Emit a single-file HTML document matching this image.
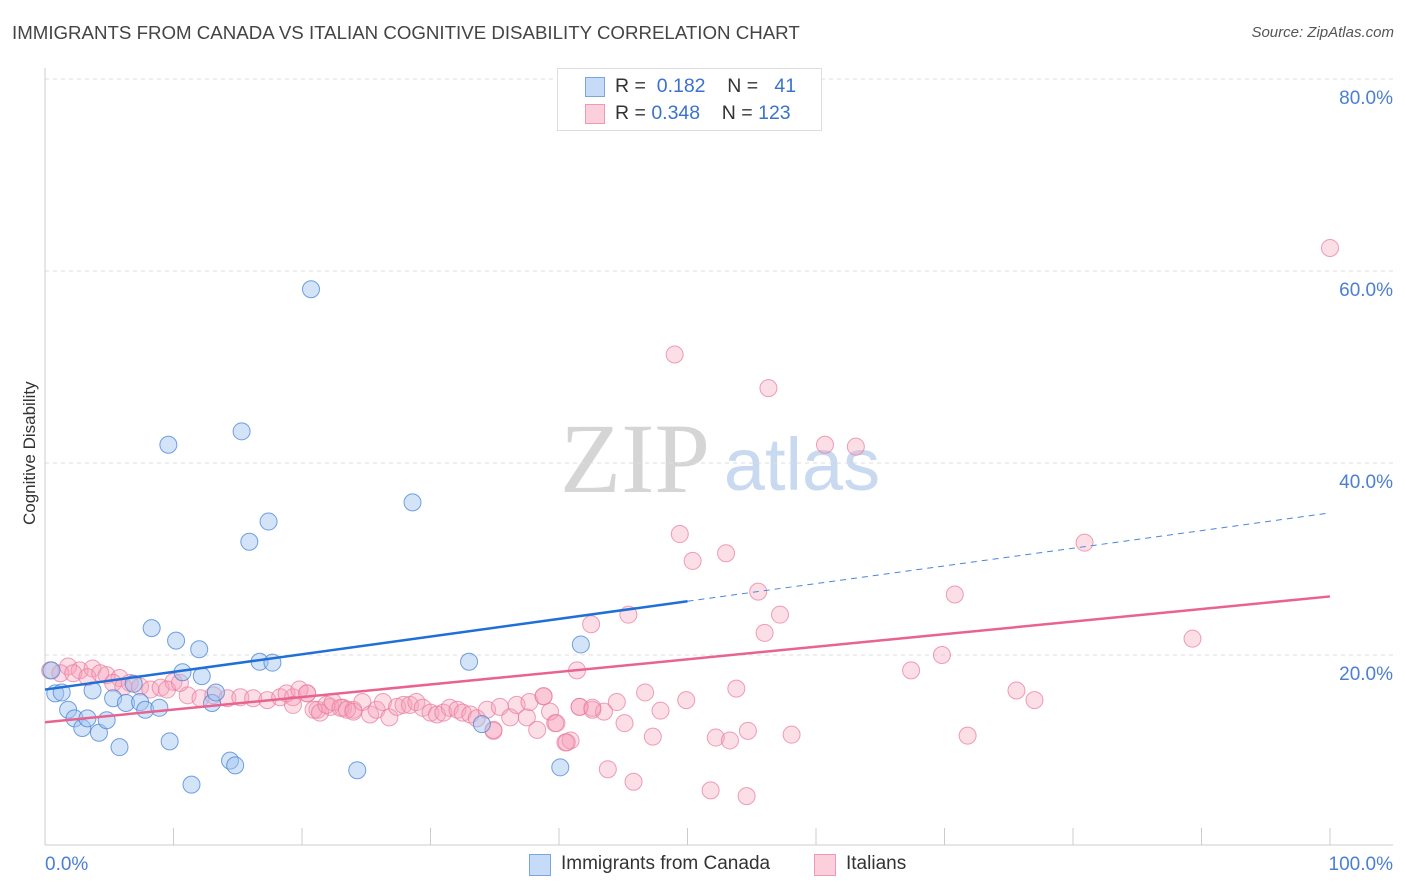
<!DOCTYPE html>
<html><head><meta charset="utf-8">
<style>
body{margin:0;background:#fff;font-family:"Liberation Sans",sans-serif;}
#wrap{position:relative;width:1406px;height:892px;overflow:hidden;}
.t{position:absolute;white-space:nowrap;}
</style></head>
<body>
<div id="wrap">
<div class="t" style="left:12px;top:22px;font-size:18.7px;color:#444;">IMMIGRANTS FROM CANADA VS ITALIAN COGNITIVE DISABILITY CORRELATION CHART</div>
<div class="t" style="right:12px;top:24px;font-size:15px;color:#555;font-style:italic;">Source: ZipAtlas.com</div>
<svg id="plot" width="1406" height="892" style="position:absolute;left:0;top:0">
<text x="635" y="492" font-family="Liberation Serif,serif" font-size="100" fill="#d5d5d5" text-anchor="middle">ZIP</text>
<text x="802" y="490" font-family="Liberation Sans,sans-serif" font-size="74" fill="#c9d9f0" text-anchor="middle">atlas</text>
</svg>
<div class="t" style="left:-40px;top:445px;font-size:17px;color:#333;transform:rotate(-90deg);width:140px;text-align:center;">Cognitive Disability</div>
<div style="position:absolute;left:557px;top:68px;width:263px;height:61px;border:1px solid #ddd;background:#fff;">
 <div style="position:absolute;left:27px;top:8px;width:18px;height:18px;background:#c5dbf7;border:1px solid #7aa6e0;"></div>
 <div class="t" style="left:57px;top:6px;font-size:19.5px;color:#333;">R = <span style="color:#3a73cf">&nbsp;0.182</span>&nbsp;&nbsp;&nbsp; N = <span style="color:#3a73cf">&nbsp;&nbsp;41</span></div>
 <div style="position:absolute;left:27px;top:35px;width:18px;height:18px;background:#fbd0dc;border:1px solid #ee9ab2;"></div>
 <div class="t" style="left:57px;top:33px;font-size:19.5px;color:#333;">R = <span style="color:#3a73cf">0.348</span>&nbsp;&nbsp;&nbsp; N = <span style="color:#3a73cf">123</span></div>
</div>
<div style="position:absolute;left:529px;top:854px;width:20px;height:20px;background:#c5dbf7;border:1px solid #7aa6e0;"></div>
<div class="t" style="left:561px;top:853px;font-size:19px;color:#333;">Immigrants from Canada</div>
<div style="position:absolute;left:814px;top:854px;width:20px;height:20px;background:#fbd0dc;border:1px solid #ee9ab2;"></div>
<div class="t" style="left:846px;top:853px;font-size:19px;color:#333;">Italians</div>
</div>
<script>
const yTicks=[20,40,60,80];
const yTickLabels=["20.0%","40.0%","60.0%","80.0%"];
const xTickLabels=["0.0%","100.0%"];
const canadaX=[0.5,0.8,1.3,1.8,2.3,2.9,3.3,3.7,4.2,4.8,5.3,5.8,6.3,6.9,7.4,7.8,8.3,8.9,9.6,9.7,10.2,10.7,11.4,12.0,12.2,13.0,13.3,14.4,14.8,15.3,15.9,16.7,17.4,17.7,20.7,24.3,28.6,33.0,34.0,40.1,41.7];
const canadaY=[18.4,16.0,16.1,14.3,13.4,12.4,13.4,16.3,11.9,13.2,15.5,10.4,15.0,17.0,15.1,14.3,22.8,14.5,41.9,11.0,21.5,18.2,6.5,20.6,17.8,15.0,16.1,9.0,8.5,43.3,31.8,19.3,33.9,19.2,58.1,8.0,35.9,19.3,12.8,8.3,21.1];
const italX=[100,49.0,56.3,60.7,63.1,49.4,53.0,50.4,80.9,55.5,70.8,57.2,45.4,42.5,56.0,89.3,69.8,67.4,41.4,75.6,77.0,53.8,46.7,49.9,44.5,47.9,45.1,54.7,58.1,71.8,47.3,52.2,53.3,40.5,43.8,45.8,51.8,54.6,38.8,39.7,34.9,40.9,41.6,42.6,43.5,
0.4,1.8,2.7,3.7,4.8,5.8,6.6,7.4,8.2,9.0,10.0,11.1,12.1,13.1,14.2,15.2,16.2,17.3,18.3,19.3,20.4,21.2,22.2,23.2,24.0,1.2,2.2,3.3,4.3,5.3,6.1,9.5,10.5,
18.8,19.3,19.8,20.4,20.9,21.4,21.9,22.4,23.0,23.5,24.0,24.7,25.3,25.8,26.3,26.8,27.4,27.9,28.4,28.9,29.4,30.0,30.5,31.0,31.5,32.1,32.5,33.1,33.6,34.4,34.9,35.4,36.2,36.7,37.5,37.7,38.3,38.8,39.3,39.8,40.6,41.6,42.6];
const italY=[62.4,51.3,47.8,41.9,41.7,32.6,30.6,29.8,31.7,26.6,26.3,24.2,24.2,23.2,22.3,21.7,20.0,18.4,18.4,16.3,15.3,16.5,16.1,15.3,15.1,14.2,12.9,12.1,11.7,11.6,11.5,11.4,11.1,10.9,8.1,6.8,5.9,5.3,15.7,12.9,12.1,11.1,14.6,14.3,14.1,
18.4,18.8,18.4,18.6,17.9,17.6,17.1,16.7,16.4,16.6,17.2,15.8,15.5,15.8,15.5,15.6,15.5,15.3,15.6,15.6,16.0,14.3,14.6,14.5,14.3,18.1,18.1,17.7,18.1,17.1,16.7,16.4,17.1,
16.0,14.8,16.4,16.0,14.3,14.0,14.8,15.1,14.5,14.3,14.1,15.1,13.8,14.3,15.1,13.5,14.6,14.8,14.8,15.1,14.5,14.0,13.8,14.0,14.5,14.3,14.0,13.8,13.4,14.3,12.2,14.6,13.5,14.8,13.5,15.1,12.2,15.7,14.1,12.9,10.9,14.6,14.5];
const canadaTrend=[16.4,34.8];
const canadaSolidEnd=50;
const italTrend=[13.0,26.1];

const X0=45,X1=1330,Y0=847,YPX=9.6;
const sx=v=>X0+(X1-X0)*v/100;
const sy=v=>Y0-v*YPX;
const NS="http://www.w3.org/2000/svg";
const svg=document.getElementById('plot');
function mk(tag,attrs){const e=document.createElementNS(NS,tag);for(const k in attrs)e.setAttribute(k,attrs[k]);svg.appendChild(e);return e;}

yTicks.forEach((t,i)=>{
 const g=mk('line',{x1:45,x2:1393,y1:sy(t),y2:sy(t),stroke:'#ddd','stroke-dasharray':'4,4'});
 
 
 const l=mk('text',{x:1393,y:sy(t)+25,'text-anchor':'end','font-size':19,fill:'#4a7fd4','font-family':'Liberation Sans,sans-serif'});
 l.textContent=yTickLabels[i];
 
 
});
const ax=mk('line',{x1:45,x2:1393,y1:845,y2:845,stroke:'#ccc'});


const ay=mk('line',{x1:45,x2:45,y1:68,y2:845,stroke:'#ccc'});


for(let i=0;i<=10;i++){
 const tk=mk('line',{x1:sx(i*10),x2:sx(i*10),y1:828,y2:845,stroke:'#ccc'});
 
 
}
[[0,'start',45],[100,'end',1393]].forEach((a,i)=>{
 const l=mk('text',{x:a[2],y:870,'text-anchor':a[1],'font-size':19,fill:'#4a7fd4','font-family':'Liberation Sans,sans-serif'});
 l.textContent=xTickLabels[i];
 
 
});

italX.forEach((x,i)=>{
 const c=mk('circle',{cx:sx(x),cy:sy(italY[i]),r:8.5,fill:'rgba(246,160,185,0.35)',stroke:'rgba(232,120,155,0.7)','stroke-width':1});
 
 
});
canadaX.forEach((x,i)=>{
 const c=mk('circle',{cx:sx(x),cy:sy(canadaY[i]),r:8.5,fill:'rgba(160,195,240,0.45)',stroke:'rgba(70,130,215,0.75)','stroke-width':1});
 
 
});
const cyAt=v=>canadaTrend[0]+(canadaTrend[1]-canadaTrend[0])*v/100;
const l1=mk('line',{x1:sx(0),y1:sy(cyAt(0)),x2:sx(canadaSolidEnd),y2:sy(cyAt(canadaSolidEnd)),stroke:'#1f6fd8','stroke-width':2.5});


const l2=mk('line',{x1:sx(canadaSolidEnd),y1:sy(cyAt(canadaSolidEnd)),x2:sx(100),y2:sy(cyAt(100)),stroke:'#4a86d8','stroke-width':1,'stroke-dasharray':'6,5'});


const l3=mk('line',{x1:sx(0),y1:sy(italTrend[0]),x2:sx(100),y2:sy(italTrend[1]),stroke:'#e8638f','stroke-width':2.5});


</script>
</body></html>
